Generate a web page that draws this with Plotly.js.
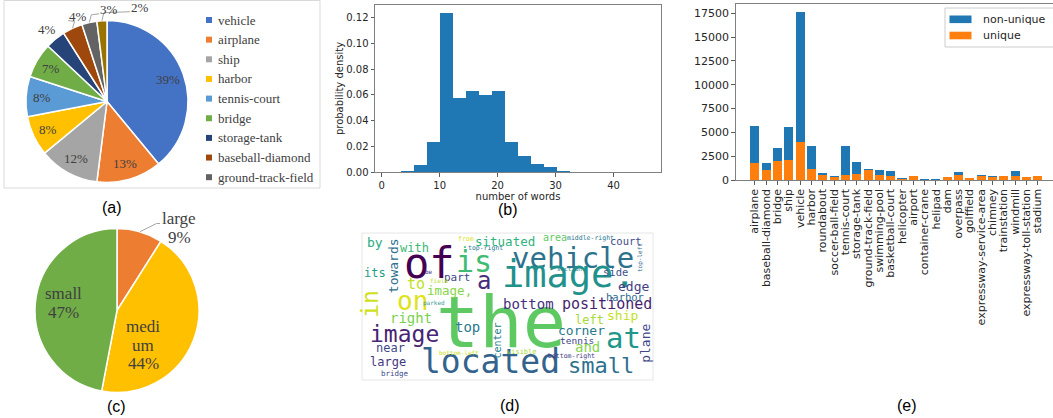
<!DOCTYPE html>
<html><head><meta charset="utf-8">
<script src="https://cdn.plot.ly/plotly-3.0.1.min.js"></script>
<style>html,body{margin:0;padding:0;background:#fff}#chart{width:1053px;height:418px}</style>
</head><body><div id="chart"></div>
<script>
// ---------- data ----------
// (a) category share
const classLabels = ['vehicle','airplane','ship','harbor','tennis-court','bridge','storage-tank','baseball-diamond','ground-track-field','others'];
const classShare = [39,13,12,8,8,7,4,4,3,2];
const classColors = ['#4472C4','#ED7D31','#A5A5A5','#FFC000','#5B9BD5','#70AD47','#264478','#9E480E','#636363','#997300'];
// (c) object size share
const sizeLabels = ['large','medium','small'];
const sizeText = ['large','medi<br>um','small'];
const sizeShare = [9,44,47];
const sizeColors = ['#ED7D31','#FFC000','#70AD47'];
// (b) caption length histogram
const binLeft = [1,3.25,5.5,7.75,10,12.25,14.5,16.75,19,21.25,23.5,25.75,28,30.25,32.5,34.75,37,39.25,41.5,43.75];
const binWidth = 2.25;
const density = [0,0.0005,0.0055,0.0235,0.1238,0.0575,0.0628,0.0602,0.0630,0.0235,0.0128,0.0064,0.0038,0.0010,0.0003,0.0001,0,0,0,0];
const histXTicks = [0,10,20,30,40];
const histYTicks = [0,0.02,0.04,0.06,0.08,0.10,0.12];
// (e) captions per category
const categories = ['airplane','baseball-diamond','bridge','ship','vehicle','harbor','roundabout','soccer-ball-field','tennis-court','storage-tank','ground-track-field','swimming-pool','basketball-court','helicopter','airport','container-crane','helipad','dam','overpass','golffield','expressway-service-area','chimney','trainstation','windmill','expressway-toll-station','stadium'];
const totalCounts = [5680,1770,3325,5610,17650,3620,720,470,3550,1900,1200,1100,930,170,430,110,70,280,820,245,510,370,440,940,340,440];
const uniqueCounts = [1750,1050,2000,2100,3990,1130,530,360,500,630,1080,560,450,80,430,30,15,280,550,245,390,290,440,450,340,440];
const barYTicks = [0,2500,5000,7500,10000,12500,15000,17500];
// (d) word cloud
const cloudWords = ['the','of','is','vehicle','image.','located','small','at','image','on','in','a','positioned','bottom','corner','right','left','top','situated','towards','with','ship','court','edge','side','near','large','to','image,','part','its','by','and','tennis','plane','harbor','center','area','from','top-right','.','middle-right','top-left','section','be','field','parked','bottom-left','visible','bottom-right','bridge'];
const cloudWeight = [72,42,30,29,37,33,22,29,23,26,23,24,15,14,13,14,12,14,12.5,13,12,13,10.5,13,10.5,12,12,15,12.5,11,12,13,14,9.5,13,10.5,10,10,6.5,6.5,13,6.5,6,6,6,6,6,6,7,6.5,7.5];
const cloudColor = ['#5ec962','#440154','#3fbc73','#2c728e','#21918c','#33638d','#2d708e','#1f988b','#482475','#dde318','#d0e11c','#472d7b','#481f70','#46307e','#29798e','#7ad151','#a5db36','#2a788e','#2fb47c','#2e6e8e','#3aba76','#c2df23','#3e4a89','#433e85','#3b528b','#3e4989','#453781','#c0df25','#86d549','#414487','#1fa088','#25ab82','#84d44b','#3f4788','#404688','#2f6c8e','#277f8e','#5ec962','#d8e219','#2a788e','#35b779','#2a788e','#31688e','#25848e','#46327e','#bade28','#3b9a9a','#c8e020','#a8db34','#443a83','#3e4c8a'];
const cloudVertical = [0,0,0,0,0,0,0,0,0,0,1,0,0,0,0,0,0,0,0,1,0,0,0,0,0,0,0,0,0,0,0,0,0,0,1,0,1,0,0,0,0,0,1,0,0,0,0,0,0,0,0];
// word placement inside the 291x147 cloud image
const cloudX = [138.5,67.5,111.7,210.8,206.7,128.3,238.5,261,42.5,50,8,121.7,244.5,166,219,49,227.5,105.8,142.5,31.7,52.5,260,264,271.7,253,28.3,25.8,54,87.5,95,13.3,12.5,225.8,215,284,263,135,192.5,104,123,103,228,278,208,66.7,76.7,71.7,96.7,160,209,33.3];
const cloudY = [89,30,28,25,41.9,128.5,132.9,105,100.8,67.9,70.8,48.4,70.6,70.7,97.8,85,86.9,94.2,8.3,32.5,15.2,82.7,7.5,53,39.1,115.2,129.3,50.7,57.8,44.6,40.2,9.7,114.4,107.9,110.8,64.1,107.5,4.3,5.5,15,10.8,4.5,25,35,38.3,47.7,70,119.2,119.2,122.5,140];

// ---------- layout helpers ----------
const W = 1053, H = 418;
const px = v => v / W;
const py = v => 1 - v / H;
const serif = 'Liberation Serif, Times New Roman, serif';
const mpl = 'DejaVu Sans, sans-serif';
const sans = 'Liberation Sans, Arial, sans-serif';
const labelGrey = '#404040';

const shapes = [];
const annotations = [];

// pie geometry (pixels)
const pieA = {cx: 107, cy: 101.5, r: 81};
const pieC = {cx: 117, cy: 310.5, r: 82};
function pieDomain(p) {
  return {x: [px(p.cx - p.r), px(p.cx + p.r)], y: [py(p.cy + p.r), py(p.cy - p.r)]};
}
function polar(p, frac, k) {
  const t = 2 * Math.PI * frac;
  return [p.cx + k * p.r * Math.sin(t), p.cy - k * p.r * Math.cos(t)];
}

const traces = [];
traces.push({
  type: 'pie', labels: classLabels, values: classShare, sort: false, direction: 'clockwise',
  marker: {colors: classColors, line: {color: '#ffffff', width: 1.5}},
  textinfo: 'none', showlegend: false, hoverinfo: 'skip', domain: pieDomain(pieA)
});
traces.push({
  type: 'pie', labels: sizeLabels, values: sizeShare, sort: false, direction: 'clockwise',
  marker: {colors: sizeColors, line: {color: '#ffffff', width: 1.5}},
  textinfo: 'none', showlegend: false, hoverinfo: 'skip', domain: pieDomain(pieC)
});

// (a) percentage labels, placed from the cumulative shares
(function () {
  const total = classShare.reduce((a, b) => a + b, 0);
  let cum = 0, prev = null;
  classShare.forEach((v, i) => {
    const mid = (cum + v / 2) / total;
    cum += v;
    const inside = v >= 7;
    let [x, y] = polar(pieA, mid, inside ? 0.8 : 1.16);
    if (!inside && prev && Math.abs(x - prev[0]) < 24 && Math.abs(y - prev[1]) < 14) {
      const edge = polar(pieA, mid, 1.0);
      x = prev[0] + 31;
      shapes.push({type: 'path', xref: 'paper', yref: 'paper',
        path: `M${px(edge[0])},${py(edge[1])} L${px(edge[0] + 2)},${py(y + 5)} L${px(x - 10)},${py(y + 4)}`,
        line: {color: '#a6a6a6', width: 1}});
    }
    if (!inside) prev = [x, y];
    annotations.push({xref: 'paper', yref: 'paper', x: px(x), y: py(y), xanchor: 'center', yanchor: 'middle', showarrow: false,
      text: v + '%', font: {family: serif, size: 13, color: labelGrey}});
  });
})();

// (c) labels (one annotation per line for tight line spacing)
const sizeLabelPos = [[179, 228], [143, 345], [63, 303]];
sizeLabels.forEach((lab, i) => {
  const lines = (sizeText[i] + '<br>' + sizeShare[i] + '%').split('<br>');
  lines.forEach((ln, k) => {
    const yy = sizeLabelPos[i][1] + (k - (lines.length - 1) / 2) * 18.5;
    annotations.push({xref: 'paper', yref: 'paper', x: px(sizeLabelPos[i][0]), y: py(yy), xanchor: 'center', yanchor: 'middle', showarrow: false,
      text: ln, font: {family: serif, size: 17, color: labelGrey}});
  });
});
(function () {
  const edge = polar(pieC, sizeShare[0] / 2 / 100, 1.0);
  shapes.push({type: 'path', xref: 'paper', yref: 'paper',
    path: `M${px(edge[0])},${py(edge[1])} L${px(156.5)},${py(223.5)} L${px(160)},${py(223.5)}`,
    line: {color: '#a6a6a6', width: 1}});
})();

traces.push({
  type: 'bar', x: binLeft, y: density, width: binWidth, offset: 0,
  marker: {color: '#1f77b4', line: {width: 0}}, xaxis: 'x2', yaxis: 'y2', showlegend: false, hoverinfo: 'skip'
});
traces.push({
  type: 'bar', x: categories, y: totalCounts, name: 'non-unique', width: 0.8,
  marker: {color: '#1f77b4', line: {width: 0}}, xaxis: 'x3', yaxis: 'y3', showlegend: false, hoverinfo: 'skip'
});
traces.push({
  type: 'bar', x: categories, y: uniqueCounts, name: 'unique', width: 0.8,
  marker: {color: '#ff7f0e', line: {width: 0}}, xaxis: 'x3', yaxis: 'y3', showlegend: false, hoverinfo: 'skip'
});
traces.push({type: 'scatter', x: [], y: [], xaxis: 'x4', yaxis: 'y4', showlegend: false, hoverinfo: 'skip'});

const axStyle = {
  showgrid: false, zeroline: false, showline: true, mirror: true, linecolor: '#808080', linewidth: 1,
  ticks: 'outside', ticklen: 3.5, tickwidth: 0.8, tickcolor: '#333', automargin: false
};

// panel (a) frame
shapes.push({type: 'rect', xref: 'paper', yref: 'paper', x0: px(4), x1: px(320), y0: py(188), y1: py(0.5), line: {color: '#d9d9d9', width: 1}});
// panel (a) legend (items that fit inside the frame)
classLabels.forEach((lab, i) => {
  const yc = 20 + i * 19.65;
  if (yc > 182) return;
  shapes.push({type: 'rect', xref: 'paper', yref: 'paper', x0: px(206), x1: px(212), y0: py(yc + 3), y1: py(yc - 3), fillcolor: classColors[i], line: {width: 0}});
  annotations.push({xref: 'paper', yref: 'paper', x: px(216), y: py(yc), xanchor: 'left', yanchor: 'middle', showarrow: false, text: lab, font: {family: serif, size: 13, color: labelGrey}});
});
// word cloud frame
shapes.push({type: 'rect', xref: 'paper', yref: 'paper', x0: px(362), x1: px(653), y0: py(380), y1: py(233), line: {color: '#e6e6e6', width: 1}});
cloudWords.forEach((w, i) => {
  annotations.push({xref: 'x4', yref: 'y4', x: cloudX[i], y: cloudY[i], xanchor: 'center', yanchor: 'middle', showarrow: false,
    text: w, textangle: cloudVertical[i] ? -90 : 0, borderpad: 0,
    font: {family: 'DejaVu Sans Mono, monospace', size: cloudWeight[i], color: cloudColor[i]}});
});
// (e) legend
shapes.push({type: 'rect', xref: 'paper', yref: 'paper', x0: px(945), x1: px(1060), y0: py(47), y1: py(8), fillcolor: 'rgba(255,255,255,0.8)', line: {color: '#cccccc', width: 1}});
[['non-unique', '#1f77b4', 19.3], ['unique', '#ff7f0e', 35.5]].forEach(([t, c, yc]) => {
  shapes.push({type: 'rect', xref: 'paper', yref: 'paper', x0: px(949.5), x1: px(971.5), y0: py(yc + 3.8), y1: py(yc - 3.8), fillcolor: c, line: {width: 0}});
  annotations.push({xref: 'paper', yref: 'paper', x: px(981), y: py(yc), xanchor: 'left', yanchor: 'middle', showarrow: false, text: t, font: {family: mpl, size: 11, color: '#262626'}});
});
// panel captions
[['(a)', 112, 208], ['(b)', 508, 209], ['(c)', 116, 406], ['(d)', 510, 405], ['(e)', 907, 405]].forEach(([t, x, y]) => {
  annotations.push({xref: 'paper', yref: 'paper', x: px(x), y: py(y), xanchor: 'center', yanchor: 'middle', showarrow: false, text: t, font: {family: sans, size: 16, color: '#000'}});
});

const layout = {
  width: W, height: H, margin: {l: 0, r: 0, t: 0, b: 0}, paper_bgcolor: '#fff', plot_bgcolor: 'rgba(0,0,0,0)',
  barmode: 'overlay', bargap: 0, showlegend: false,
  xaxis2: Object.assign({}, axStyle, {domain: [px(375), px(661)], anchor: 'y2', range: [-1.16, 48.2], tickvals: histXTicks,
    tickfont: {family: mpl, size: 10, color: '#262626'},
    title: {text: 'number of words', font: {family: mpl, size: 10, color: '#262626'}, standoff: 0}}),
  yaxis2: Object.assign({}, axStyle, {domain: [py(172), py(5)], anchor: 'x2', range: [0, 0.1298], tickvals: histYTicks, tickformat: '.2f',
    tickfont: {family: mpl, size: 10, color: '#262626'},
    title: {text: 'probability density', font: {family: mpl, size: 10, color: '#262626'}, standoff: 0}}),
  xaxis3: Object.assign({}, axStyle, {domain: [px(735.7), 1], anchor: 'y3', range: [-1.69, 26.34], tickangle: -90,
    tickmode: 'array', tickvals: categories, ticktext: categories,
    tickfont: {family: mpl, size: 11, color: '#262626'}, type: 'category'}),
  yaxis3: Object.assign({}, axStyle, {domain: [py(180), py(4)], anchor: 'x3', range: [0, 18480], tickvals: barYTicks, tickformat: 'd', mirror: false,
    tickfont: {family: mpl, size: 11, color: '#262626'}}),
  xaxis4: {domain: [px(362), px(653)], anchor: 'y4', range: [0, 291], visible: false, fixedrange: true},
  yaxis4: {domain: [py(380), py(233)], anchor: 'x4', range: [147, 0], visible: false, fixedrange: true},
  shapes: shapes, annotations: annotations
};

Plotly.newPlot('chart', traces, layout, {displayModeBar: false, staticPlot: true});
</script></body></html>
